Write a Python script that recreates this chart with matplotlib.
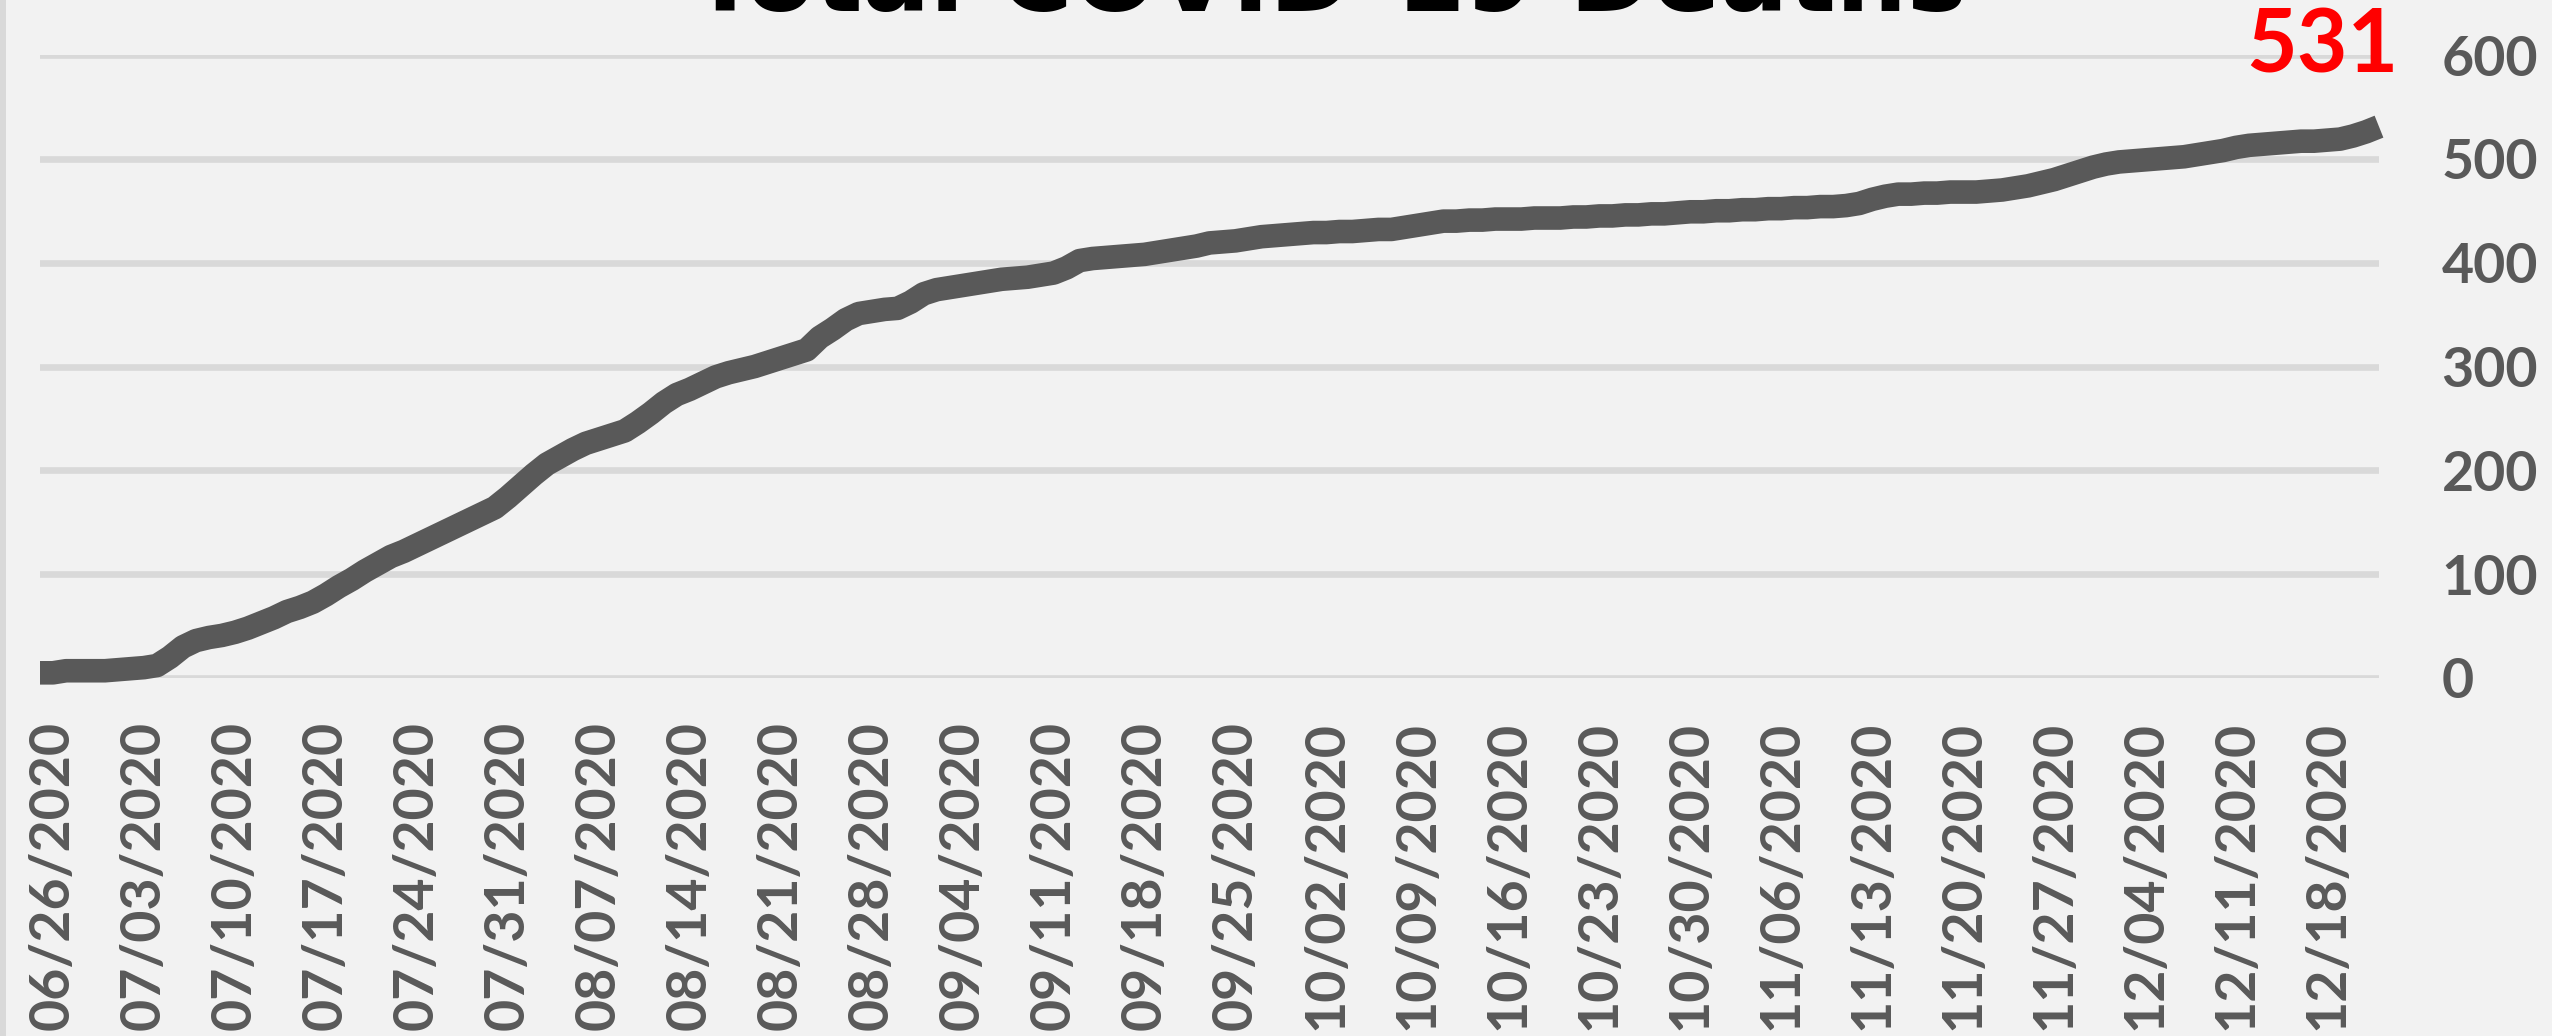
import matplotlib.pyplot as plt
import numpy as np

# cumulative deaths, one value per day from 06/25/2020 to 12/22/2020
deaths = [5, 5, 7, 7, 7, 7, 8,
          9, 10, 12, 20, 30, 36, 39,
          41, 44, 48, 53, 58, 64, 68,
          73, 80, 88, 95, 103, 110, 117,
          122, 128, 134, 140, 146, 152, 158,
          164, 174, 185, 196, 206, 213, 220,
          226, 230, 234, 238, 246, 255, 265,
          273, 278, 284, 290, 294, 297, 300,
          304, 308, 312, 316, 328, 336, 345,
          351, 353, 355, 356, 362, 370, 374,
          376, 378, 380, 382, 384, 385, 386,
          388, 390, 395, 402, 404, 405, 406,
          407, 408, 410, 412, 414, 416, 419,
          420, 421, 423, 425, 426, 427, 428,
          429, 429, 430, 430, 431, 432, 432,
          434, 436, 438, 440, 440, 441, 441,
          442, 442, 442, 443, 443, 443, 444,
          444, 445, 445, 446, 446, 447, 447,
          448, 449, 449, 450, 450, 451, 451,
          452, 452, 453, 453, 454, 454, 455,
          457, 461, 464, 466, 466, 467, 467,
          468, 468, 468, 469, 470, 472, 474,
          477, 480, 484, 488, 492, 495, 497,
          498, 499, 500, 501, 502, 504, 506,
          508, 511, 513, 514, 515, 516, 517,
          517, 518, 519, 522, 526, 531]

tick_labels = ['06/26/2020', '07/03/2020', '07/10/2020', '07/17/2020', '07/24/2020',
               '07/31/2020', '08/07/2020', '08/14/2020', '08/21/2020', '08/28/2020',
               '09/04/2020', '09/11/2020', '09/18/2020', '09/25/2020', '10/02/2020',
               '10/09/2020', '10/16/2020', '10/23/2020', '10/30/2020', '11/06/2020',
               '11/13/2020', '11/20/2020', '11/27/2020', '12/04/2020', '12/11/2020',
               '12/18/2020']

y_ticks = [0, 100, 200, 300, 400, 500, 600]

plt.rcParams['font.family'] = ['Lato', 'DejaVu Sans']

bg = '#F2F2F2'
W, H = 2552, 1036
fig = plt.figure(figsize=(W / 100, H / 100), dpi=100, facecolor=bg)
ax = fig.add_axes([40 / W, 1 - 678 / H, 2339 / W, 623 / H])
ax.set_facecolor(bg)

x = np.arange(len(deaths))
ax.plot(x, deaths, color='#595959', lw=17, solid_capstyle='butt',
        solid_joinstyle='round', clip_on=False, zorder=3)

ax.set_xlim(0, len(deaths) - 1)
ax.set_ylim(0, 600)
ax.set_yticks(y_ticks)
ax.yaxis.tick_right()
ax.grid(axis='y', color='#D9D9D9', lw=4.8)
ax.set_axisbelow(True)

ax.set_xticks(x[1::7])
ax.set_xticklabels(tick_labels, rotation=90)
ax.tick_params(axis='x', length=0, pad=31, labelsize=40, labelcolor='#595959')
ax.tick_params(axis='y', length=0, pad=45, labelsize=40, labelcolor='#595959')
for lbl in ax.get_xticklabels() + ax.get_yticklabels():
    lbl.set_fontweight('bold')
for s in ax.spines.values():
    s.set_visible(False)

# last value label
ax.annotate(str(deaths[-1]), xy=(x[-1], deaths[-1]), xytext=(-57, 54),
            textcoords='offset pixels', ha='center', va='baseline',
            color='#FF0000', fontsize=63, fontweight='bold', annotation_clip=False)

# title (mostly cut off at the top, as in the original)
fig.text(1329 / W, 1 - 11 / H, 'Total COVID-19 Deaths', ha='center', va='baseline',
         fontsize=72, fontweight='bold', family='DejaVu Sans', color='black')

# left border of the chart area
fig.add_artist(plt.Line2D([3 / W, 3 / W], [0, 1], color='#D9D9D9', lw=4.3))

fig.savefig('out.png', dpi=100, facecolor=bg)
